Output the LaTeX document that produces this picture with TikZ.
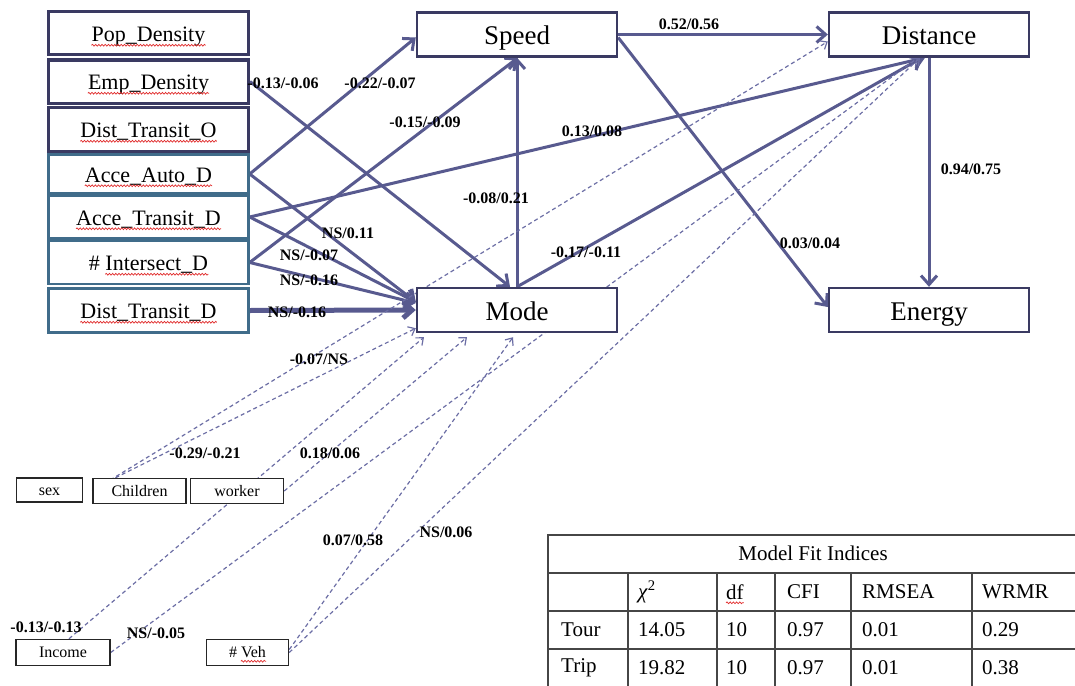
\documentclass[tikz,border=0pt]{standalone}
\usepackage{fontspec}
\setmainfont{Liberation Serif}
\usetikzlibrary{arrows.meta,decorations.pathmorphing,calc}
\pgfdeclarelayer{bg}
\pgfsetlayers{bg,main}

\definecolor{arrowc}{RGB}{88,90,143}
\definecolor{navyb}{RGB}{58,58,98}
\definecolor{tealb}{RGB}{64,108,138}
\definecolor{dashc}{RGB}{108,110,165}
\definecolor{wavyred}{RGB}{225,45,45}
\definecolor{rulec}{RGB}{70,70,70}

\tikzset{
  mainbox/.style={draw=navyb, line width=2.4pt, fill=white, minimum width=200pt,
    minimum height=44pt, inner sep=0pt, text height=20pt, text depth=0pt,
    font=\fontsize{27}{30}\selectfont},
  topbox/.style={draw=navyb, line width=3pt, fill=white, minimum width=200pt, inner sep=0pt},
  lowbox/.style={draw=tealb, line width=2.4pt, fill=white, minimum width=200pt, inner sep=0pt},
  boxtext/.style={inner sep=0pt, text height=16.5pt, text depth=0pt,
    font=\fontsize{22}{24}\selectfont},
  smallbox/.style={draw=black!85, line width=1.5pt, fill=white, inner sep=0pt,
    text height=10.5pt, text depth=0pt, font=\fontsize{16}{18}\selectfont},
  smalltext/.style={inner sep=0pt, text height=10.5pt, text depth=0pt,
    font=\fontsize{16}{18}\selectfont},
  solidarrow/.style={draw=arrowc, line width=3pt, -{Straight Barb[length=9pt,width=16pt]}},
  dasharrow/.style={draw=dashc, line width=1.2pt, dash pattern=on 4pt off 3pt,
    -{Straight Barb[length=6pt,width=10pt]}},
  coef/.style={inner sep=0pt, font=\bfseries\fontsize{16}{18}\selectfont},
  squig/.style={draw=wavyred, line width=0.7pt, decorate,
    decoration={snake, amplitude=0.9pt, segment length=3.2pt}},
  tabtext/.style={inner sep=0pt, anchor=west, font=\fontsize{21}{24}\selectfont},
  tabrule/.style={draw=rulec, line width=1.5pt},
}

% red spell-check wave under a text node (optional left offset)
\newcommand\wavyline[2][0pt]{%
  \draw[squig] ([xshift=#1,yshift=-3.5pt]#2.base west) -- ([yshift=-3.5pt]#2.base east);}

\begin{document}
\begin{tikzpicture}[x=1pt,y=-1pt]
\useasboundingbox (0,0) rectangle (1075,685);

% built-environment variables
\node[topbox, minimum height=43pt] (pop) at (148.5,33.5) {};
\node[boxtext] (popT) at (pop) {Pop\_Density};
\node[topbox, minimum height=43pt] (emp) at (148.5,81.5) {};
\node[boxtext] (empT) at (emp) {Emp\_Density};
\node[topbox, minimum height=44pt] (dto) at (148.5,129.5) {};
\node[boxtext] (dtoT) at (dto) {Dist\_Transit\_O};
\node[lowbox, minimum height=39pt] (aad) at (148.5,174) {};
\node[boxtext] (aadT) at (aad) {Acce\_Auto\_D};
\node[lowbox, minimum height=43pt] (atd) at (148.5,217) {};
\node[boxtext] (atdT) at (atd) {Acce\_Transit\_D};
\node[lowbox, minimum height=43pt] (isd) at (148.5,262.5) {};
\node[boxtext] (isdT) at (isd) {\# Intersect\_D};
\node[lowbox, minimum height=44pt] (dtd) at (148.5,310.5) {};
\node[boxtext] (dtdT) at (dtd) {Dist\_Transit\_D};

% travel outcomes
\node[mainbox] (speed) at (517,34.5) {Speed};
\node[mainbox] (distance) at (929,34.5) {Distance};
\node[mainbox] (mode) at (517,310) {Mode};
\node[mainbox] (energy) at (929,310) {Energy};

% socio-demographic variables
\node[smallbox, minimum width=66pt, minimum height=24pt] (sex) at (49.5,490) {sex};
\node[smallbox, minimum width=93pt, minimum height=25pt] (children) at (139.5,491) {Children};
\node[smallbox, minimum width=93pt, minimum height=25pt] (worker) at (237,491) {worker};
\node[smallbox, minimum width=94pt, minimum height=26pt] (income) at (63,652.5) {Income};
\node[smallbox, minimum width=82pt, minimum height=26pt] (veh) at (247.5,652.5) {};
\node[smalltext] (vehT) at (veh) {\# Veh};

\begin{pgfonlayer}{bg}
  % direct effects
  \draw[solidarrow] (emp.east) -- ([xshift=-7pt]mode.north);
  \draw[solidarrow] (aad.east) -- ([yshift=-3pt]speed.west);
  \draw[solidarrow] (isd.east) -- ([xshift=1pt]speed.south);
  \draw[solidarrow] (aad.east) -- ([yshift=8pt]mode.west);
  \draw[solidarrow] (atd.east) -- ([xshift=-4pt]distance.south);
  \draw[solidarrow] (atd.east) -- ([yshift=8pt]mode.west);
  \draw[solidarrow] (isd.east) -- ([yshift=7pt]mode.west);
  \draw[solidarrow, line width=5pt] (dtd.east) -- (mode.west);
  \draw[solidarrow] (mode.north) -- (speed.south);
  \draw[solidarrow] (speed.east) -- (distance.west);
  \draw[solidarrow] ([yshift=-3pt]speed.east) -- ([yshift=3pt]energy.west);
  \draw[solidarrow] (mode.north) -- ([xshift=-7pt]distance.south);
  \draw[solidarrow] (distance.south) -- (energy.north);
  % control variables
  \draw[dasharrow] (children.west) -- ([yshift=-7pt]distance.west);
  \draw[dasharrow] ([xshift=-24pt]children.north) -- ([yshift=5pt]mode.south west);
  \draw[dasharrow] (worker.east) -- ([xshift=-50pt,yshift=-4pt]mode.south);
  \draw[dasharrow] ([xshift=6pt]income.north) -- ([xshift=-93pt,yshift=-4pt]mode.south);
  \draw[dasharrow] (income.east) -- ([xshift=-11pt]distance.south);
  \draw[dasharrow] ([yshift=3pt]veh.east) -- ([xshift=-4pt,yshift=-4pt]mode.south);
  \draw[dasharrow] (veh.east) -- ([xshift=-9pt]distance.south);
\end{pgfonlayer}

% path coefficients (tour/trip)
\node[coef] (c1) at (283,83) {-0.13/-0.06};
\node[coef] (c2) at (380,83) {-0.22/-0.07};
\node[coef] (c3) at (425,122) {-0.15/-0.09};
\node[coef] (c4) at (496,198) {-0.08/0.21};
\node[coef] (c5) at (348,233) {NS/0.11};
\node[coef] (c6) at (309,255) {NS/-0.07};
\node[coef] (c7) at (309,280) {NS/-0.16};
\node[coef] (c8) at (297,312) {NS/-0.16};
\node[coef] (c9) at (689,24) {0.52/0.56};
\node[coef] (c10) at (592,131) {0.13/0.08};
\node[coef] (c11) at (971,169) {0.94/0.75};
\node[coef] (c12) at (810,243) {0.03/0.04};
\node[coef] (c13) at (586,252) {-0.17/-0.11};
\node[coef] (c14) at (319,359) {-0.07/NS};
\node[coef] (c15) at (205,453) {-0.29/-0.21};
\node[coef] (c16) at (330,453) {0.18/0.06};
\node[coef] (c17) at (46,627) {-0.13/-0.13};
\node[coef] (c18) at (156,633) {NS/-0.05};
\node[coef] (c19) at (353,540) {0.07/0.58};
\node[coef] (c20) at (446,532) {NS/0.06};

% fit indices table
\draw[tabrule, line width=2pt] (548,535) -- (1080,535);
\draw[tabrule] (548,573) -- (1080,573);
\draw[tabrule] (548,611) -- (1080,611);
\draw[tabrule] (548,649) -- (1080,649);
\draw[tabrule] (548,534) -- (548,690);
\foreach \cx in {628,717,775,851,972} \draw[tabrule] (\cx,573) -- (\cx,690);
\node[inner sep=0pt, font=\fontsize{21}{24}\selectfont] (ttl) at (813,553) {Model Fit Indices};
\node[tabtext] (h1) at (638,592) {\textit{χ}\textsuperscript{2}};
\node[tabtext] (dfT) at (726,592) {df};
\node[tabtext] (h3) at (787,592) {CFI};
\node[tabtext] (h4) at (862,592) {RMSEA};
\node[tabtext] (h5) at (982,592) {WRMR};
\node[tabtext] (r1) at (561,630) {Tour};
\node[tabtext] (r1a) at (638,630) {14.05};
\node[tabtext] (r1b) at (726,630) {10};
\node[tabtext] (r1c) at (787,630) {0.97};
\node[tabtext] (r1d) at (862,630) {0.01};
\node[tabtext] (r1e) at (982,630) {0.29};
\node[tabtext] (r2) at (561,668) {Trip};
\node[tabtext] (r2a) at (638,668) {19.82};
\node[tabtext] (r2b) at (726,668) {10};
\node[tabtext] (r2c) at (787,668) {0.97};
\node[tabtext] (r2d) at (862,668) {0.01};
\node[tabtext] (r2e) at (982,668) {0.38};

% spell-check waves
\wavyline{popT}
\wavyline{empT}
\wavyline{dtoT}
\wavyline{aadT}
\wavyline{atdT}
\wavyline[16.5pt]{isdT}
\wavyline{dtdT}
\wavyline[12pt]{vehT}
\wavyline{dfT}
\end{tikzpicture}
\end{document}
